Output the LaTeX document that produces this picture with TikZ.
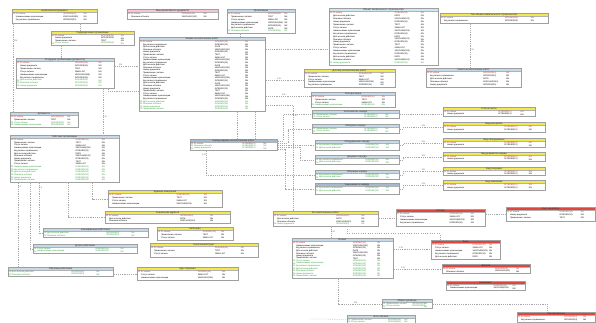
\documentclass[tikz,border=0pt]{standalone}
\usepackage{fontspec}
\setmainfont{Liberation Sans}
\usepackage{xcolor}
\definecolor{HeadYellow}{HTML}{F3E94E}
\definecolor{HeadBlue}{HTML}{C4DAEA}
\definecolor{HeadCyan}{HTML}{C9EBEF}
\definecolor{HeadPink}{HTML}{F3C6DA}
\definecolor{HeadRed}{HTML}{E0453E}
\definecolor{HeadSteel}{HTML}{A3BBD0}
\definecolor{KeyRed}{HTML}{C0302A}
\definecolor{KeyGreen}{HTML}{2F9A36}
\definecolor{LineGrey}{HTML}{A8A8A8}

\newcommand\erfont{\fontsize{2.1}{2.3}\selectfont}
\newcommand\ertitlefont{\fontsize{2.4}{2.6}\selectfont}
\newcommand\fldname[1]{\ifcase#1 Наименование организации\or Код записи справочника\or Дата начала действия\or Описание объекта\or Номер документа\or Примечание к записи\or Статус записи\fi}
\newcommand\fldtype[1]{\ifcase#1 VARCHAR(255)\or INTEGER(10)\or DATE\or VARCHAR(100)\or INTEGER(10)\or TEXT\or SMALLINT\fi}

\tikzset{
  fld/.style={anchor=west, inner sep=0pt, font=\erfont},
  ttl/.style={inner sep=0pt, font=\ertitlefont, text=black!85},
  rel/.style={draw=LineGrey, line width=0.3pt, dash pattern=on 1.2pt off 1pt},
  card/.style={inner sep=0.3pt, font=\erfont, text=black!70},
}

% name, x1, y1, x2, y2, header colour, title, rows, fk rows
\newcommand\ertable[9]{%
  \pgfmathsetmacro\tabw{#4-#2}%
  \pgfmathsetmacro\tabh{#5-#3}%
  \node[inner sep=0pt, anchor=north west, minimum width=\tabw pt, minimum height=\tabh pt] (#1) at (#2,#3) {};
  \fill[white] (#2,#3) rectangle (#4,#5);
  \fill[#6] (#2,#3) rectangle (#4,#3+3.5);
  \draw[gray!60, line width=0.2pt] (#2,#3+3.5) -- (#4,#3+3.5);
  \draw[gray!75, line width=0.25pt] (#2,#3) rectangle (#4,#5);
  \node[ttl] at ({(#2+#4)/2},#3+1.8) {#7};
  \pgfmathsetmacro\rp{min(2.9,(\tabh-4.3)/#8)}%
  \pgfmathtruncatemacro\fkfrom{#8-#9}%
  \foreach \i in {1,...,#8}{
    \pgfmathsetmacro\ry{#3+3.8+(\i-0.5)*\rp}
    \pgfmathtruncatemacro\k{mod(\i+#2,7)}
    \ifnum\i>\fkfrom \def\rc{KeyGreen}\def\rk{FK}\def\rn{\fldname{\k}}\def\rt{INTEGER(10)}%
    \else\ifnum\i=1 \def\rc{KeyRed}\def\rk{PK}\def\rn{ID записи}\def\rt{INTEGER(10)}%
    \else\def\rc{black}\def\rk{}\def\rn{\fldname{\k}}\def\rt{\fldtype{\k}}\fi\fi
    \node[fld, text=\rc] at (#2+0.6,\ry) {\rk};
    \node[fld, text=\rc] at (#2+3.8,\ry) {\rn};
    \node[fld, text=\rc] at (#2+0.6*\tabw,\ry) {\rt};
    \node[fld, text=\rc] at (#2+0.84*\tabw,\ry) {NN};
  }
}

\begin{document}
\begin{tikzpicture}[x=1pt,y=-1pt]
  \useasboundingbox (0,0) rectangle (596,322);
  \fill[white] (0,0) rectangle (596,322);

  \ertable{T01}{12}{9}{97}{23}{HeadYellow}{Нормативный документ}{3}{0}
  \ertable{T02}{127}{9}{218}{19}{HeadPink}{Вид нормативного документа}{2}{0}
  \ertable{T03}{227}{9}{295}{33}{HeadBlue}{Организация}{7}{1}
  \ertable{T04}{329}{8}{438}{65}{HeadCyan}{Объект капитального строительства}{18}{1}
  \ertable{T05}{440}{13}{548}{23}{HeadYellow}{Тип объекта капитального строительства}{2}{0}
  \ertable{T06}{51}{31}{134}{45}{HeadYellow}{Подразделение организации}{4}{1}
  \ertable{T07}{16}{58}{114}{88}{HeadBlue}{Сотрудник организации (должность)}{9}{3}
  \ertable{T08}{139}{37}{265}{111}{HeadBlue}{Заявка на выполнение работ}{27}{4}
  \ertable{T09}{304}{69}{395}{87}{HeadYellow}{Договор на выполнение работ}{5}{0}
  \ertable{T10}{311}{92}{395}{107}{HeadBlue}{Этап договора}{4}{1}
  \ertable{T11}{426}{68}{521}{87}{HeadBlue}{Смета на выполнение работ}{5}{0}
  \ertable{T12}{443}{107}{535}{116}{HeadYellow}{Статья сметы}{2}{0}
  \ertable{T13}{10}{112}{78}{127}{HeadBlue}{Должность}{4}{2}
  \ertable{T14}{10}{135}{119}{182}{HeadBlue}{Работник организации}{16}{6}
  \ertable{T15}{190}{139}{277}{150}{HeadSteel}{Наряд-задание на выполнение работ}{3}{2}
  \ertable{T16}{312}{110}{399}{118}{HeadBlue}{Исполнитель наряда}{2}{2}
  \ertable{T17}{312}{124}{399}{133}{HeadBlue}{Материал наряда}{2}{2}
  \ertable{T18}{315}{140}{399}{150}{HeadBlue}{Оборудование наряда}{2}{2}
  \ertable{T19}{315}{155}{399}{164}{HeadBlue}{Документ наряда}{2}{2}
  \ertable{T20}{315}{170}{399}{179}{HeadBlue}{Операция наряда}{2}{2}
  \ertable{T21}{315}{183}{399}{194}{HeadSteel}{Замечание по наряду}{2}{2}
  \ertable{T22}{443}{122}{545}{132}{HeadYellow}{Вид материала}{2}{0}
  \ertable{T23}{443}{138}{545}{147}{HeadYellow}{Вид оборудования}{2}{0}
  \ertable{T24}{443}{152}{545}{161}{HeadYellow}{Вид документа наряда}{2}{0}
  \ertable{T25}{443}{167}{545}{175}{HeadYellow}{Вид операции}{2}{0}
  \ertable{T26}{443}{180}{545}{190}{HeadYellow}{Вид замечания}{2}{0}
  \ertable{T27}{108}{190}{222}{207}{HeadYellow}{Единица измерения}{4}{0}
  \ertable{T28}{105}{211}{230}{223}{HeadYellow}{Справочник адресов}{3}{0}
  \ertable{T29}{273}{211}{378}{226}{HeadYellow}{Акт выполненных работ}{4}{1}
  \ertable{T30}{396}{209}{485}{226}{HeadRed}{Платеж}{4}{0}
  \ertable{T31}{506}{207}{595}{221}{HeadRed}{Счет на оплату}{3}{0}
  \ertable{T32}{43}{228}{148}{237}{HeadBlue}{Квалификация работника}{2}{2}
  \ertable{T33}{33}{244}{137}{253}{HeadBlue}{Допуск работника}{2}{2}
  \ertable{T34}{8}{267}{113}{276}{HeadBlue}{Обучение работника}{2}{2}
  \ertable{T35}{157}{227}{233}{240}{HeadYellow}{Категория}{3}{0}
  \ertable{T36}{150}{243}{258}{257}{HeadYellow}{Населенный пункт}{3}{0}
  \ertable{T37}{137}{267}{238}{280}{HeadYellow}{Курс обучения}{3}{0}
  \ertable{T38}{292}{238}{393}{278}{HeadBlue}{Объект}{14}{7}
  \ertable{T39}{431}{240}{500}{259}{HeadRed}{Банк}{5}{0}
  \ertable{T40}{442}{264}{530}{273}{HeadRed}{Валюта}{2}{0}
  \ertable{T41}{446}{281}{525}{290}{HeadRed}{Контрагент}{2}{0}
  \ertable{T42}{517}{312}{595.5}{322}{HeadRed}{Расчетный счет}{2}{0}
  \ertable{T43}{382}{299}{432}{308}{HeadBlue}{Объект договора}{2}{2}
  \ertable{T44}{347}{315}{415}{323}{HeadBlue}{Фото объекта}{2}{2}

  \draw[rel] (T01.south -| 80,0) -- (T06.north -| 80,0);
  \draw[rel] (T01.south -| 13.5,0) -- node[card, right, pos=0.2] {1:N} (T13.north -| 13.5,0);
  \draw[rel] (T06.south -| 61,0) -- (T07.north -| 61,0);
  \draw[rel] (T07.south -| 103,0) -- node[card, right, pos=0.6] {1:N} (T14.north -| 103,0);
  \draw[rel] (T07.east |- 0,66) -- node[card, above, pos=0.25] {1:N} (T08.west |- 0,66);
  \draw[rel] (T07.south -| 108,0) |- (T08.west |- 0,91);
  \draw[rel] (T03.south -| 240,0) -- (T08.north -| 240,0);
  \draw[rel] (T08.east |- 0,49) -- (T04.west |- 0,49);
  \draw[rel] (T08.east |- 0,80) -- node[card, above, pos=0.35] {1:N} (T09.west |- 0,80);
  \draw[rel] (T08.east |- 0,96) -- node[card, above, pos=0.4] {1:N} (T10.west |- 0,96);
  \draw[rel] (T05.south -| 470,0) -- node[card, right, pos=0.6] {1:N} (T11.north -| 470,0);
  \draw[rel] (T08.south -| 255,0) -- (T15.north -| 255,0);
  \draw[rel] (T08.south -| 237,0) -- (T15.north -| 237,0);
  \draw[rel] (T08.east |- 0,105) -| node[card, right, pos=0.55] {1:N} (T29.north -| 293,0);

  \draw[rel] (T15.east |- 0,141) -| (T16.west -| 283,0) -- (T16.west);
  \draw[rel] (T15.east |- 0,143) -| (T17.west -| 288,0) -- (T17.west);
  \draw[rel] (T15.east |- T18.west) -- (T18.west);
  \draw[rel] (T15.east |- 0,147) -| (T19.west -| 300,0) -- (T19.west);
  \draw[rel] (T15.south -| 206,0) |- node[card, left, pos=0.1] {1:N} (T20.west);
  \draw[rel] (T15.east |- 0,149) -| (T21.west -| 285,0) -- (T21.west);
  \draw[rel] (T16.east) -- (T12.west |- T16.east);
  \foreach \a/\b in {T17/T22,T18/T23,T19/T24,T20/T25,T21/T26}
    \draw[rel] (\a.east) -- ++(4,0) |- node[card, above, pos=0.75] {1:N} (\b.west);

  \draw[rel] (T14.south -| 18,0) -- node[card, right, pos=0.05] {1:1} (T34.north -| 18,0);
  \draw[rel] (T14.south -| 30,0) |- (T33.west);
  \draw[rel] (T14.south -| 39,0) |- node[card, right, pos=0.05] {1:1} (T32.west);
  \draw[rel] (T14.south -| 68,0) |- (T28.west);
  \draw[rel] (T14.south -| 92,0) |- (T27.west);
  \draw[rel] (T34.east |- T37.west) -- (T37.west);

  \draw[rel] (T29.east |- 0,218) -- (T30.west |- 0,218);
  \draw[rel] (T30.east |- T31.west) -- (T31.west);
  \draw[rel] (T29.south -| 331,0) -- node[card, right, pos=0.5] {1:N} (T38.north -| 331,0);
  \draw[LineGrey, line width=0.3pt, dotted] (T29.south -| 347,0) -- ++(0,7) -| (T39.north -| 440,0);
  \draw[rel] (T38.east |- 0,249) -- node[card, above, pos=0.2] {1:N} (T39.west |- 0,249);
  \draw[rel] (T38.east |- T40.west) -- node[card, above, pos=0.2] {1:N} (T40.west);
  \draw[rel] (T38.south -| 338,0) |- node[card, above, pos=0.7] {1:N} (T43.west);
  \draw[rel] (T43.east) -| (T42.north -| 547,0);
  \coordinate (c44) at (310,319);
  \draw[rel] (c44) -- (T44.west);
\end{tikzpicture}
\end{document}
